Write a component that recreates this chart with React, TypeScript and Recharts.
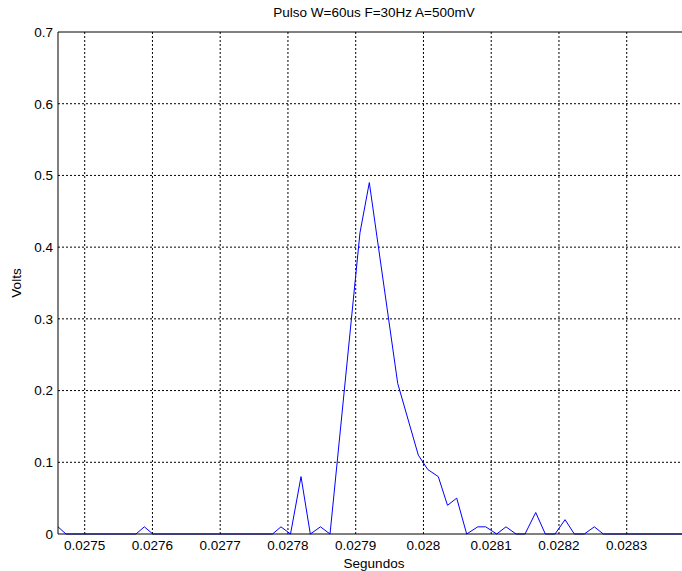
import { Label, Line, LineChart, ReferenceLine, XAxis, YAxis } from "recharts";

const times = [
  0.0274606, 0.0274724, 0.0275757, 0.027588, 0.0276005, 0.0277772, 0.0277897,
  0.0278038, 0.0278193, 0.027833, 0.027848, 0.0278621, 0.0279063, 0.0279201,
  0.027962, 0.0279924, 0.0280063, 0.0280219, 0.0280355, 0.0280491, 0.0280638,
  0.0280801, 0.0280919, 0.0281081, 0.0281218, 0.0281366, 0.0281499, 0.0281657,
  0.0281799, 0.0281942, 0.028209, 0.0282227, 0.0282374, 0.0282522, 0.0282655,
  0.0283816,
];
const volts = [
  0.01, 0, 0, 0.01, 0, 0, 0.01,
  0, 0.08, 0, 0.01, 0, 0.42, 0.49,
  0.21, 0.11, 0.09, 0.08, 0.04, 0.05, 0,
  0.01, 0.01, 0, 0.01, 0, 0, 0.03,
  0, 0, 0.02, 0, 0, 0.01, 0,
  0,
];

const xTicks = [0.0275, 0.0276, 0.0277, 0.0278, 0.0279, 0.028, 0.0281, 0.0282, 0.0283];
const yTicks = [0, 0.1, 0.2, 0.3, 0.4, 0.5, 0.6, 0.7];
// the axes box runs a little past the right edge of the picture
const xDomain = [0.0274606, 0.0283816];

const data = times.map((t, i) => ({ t, v: volts[i] }));

const font = "'Liberation Sans', Arial, Helvetica, sans-serif";
const tickStyle = { fill: "#000", fontSize: 13.5, fontFamily: font };

function VoltsLabel(props: any) {
  const vb = props.viewBox || { x: 0, y: 0, height: 0 };
  const x = vb.x + 21;
  const y = vb.y + vb.height / 2;
  return (
    <text
      x={x}
      y={y}
      transform={`rotate(-90 ${x} ${y})`}
      textAnchor="middle"
      fontSize={13.5}
      fontFamily={font}
      fill="#000"
    >
      Volts
    </text>
  );
}

function SegundosLabel(props: any) {
  const vb = props.viewBox || { x: 0, y: 0, width: 0, height: 0 };
  // centred on the full axes box, which is 8px wider than the picture
  const x = vb.x + (vb.width + 8) / 2;
  const y = vb.y + vb.height + 14;
  return (
    <text x={x} y={y} textAnchor="middle" fontSize={13.5} fontFamily={font} fill="#000">
      Segundos
    </text>
  );
}

export default function App() {
  return (
    <div
      style={{
        position: "absolute",
        left: 0,
        top: 0,
        width: 682,
        height: 571,
        overflow: "hidden",
        background: "#fff",
      }}
    >
      <div
        style={{
          position: "absolute",
          left: 0,
          top: 4,
          width: 748,
          textAlign: "center",
          fontFamily: font,
          fontSize: 13.5,
          lineHeight: "18px",
          color: "#000",
        }}
      >
        Pulso W=60us F=30Hz A=500mV
      </div>
      <LineChart
        width={682}
        height={571}
        data={data}
        margin={{ top: 32, right: 0, left: 0, bottom: 17 }}
      >
        {/* dotted grid at the labelled ticks */}
        {yTicks.slice(1, -1).map((v) => (
          <ReferenceLine key={"h" + v} y={v} stroke="#000" strokeDasharray="2 2" />
        ))}
        {xTicks.map((t) => (
          <ReferenceLine key={"v" + t} x={t} stroke="#000" strokeDasharray="2 2" />
        ))}
        <XAxis
          type="number"
          dataKey="t"
          domain={xDomain}
          allowDataOverflow
          ticks={xTicks}
          tickFormatter={(v) => String(Number(v.toFixed(4)))}
          tick={tickStyle}
          tickLine={false}
          tickSize={0}
          tickMargin={6}
          axisLine={{ stroke: "#000" }}
          height={20}
        >
          <Label content={SegundosLabel} />
        </XAxis>
        <YAxis
          type="number"
          domain={[0, 0.7]}
          ticks={yTicks}
          tickFormatter={(v) => String(Number(v.toFixed(1)))}
          tick={tickStyle}
          tickLine={false}
          tickSize={0}
          tickMargin={5}
          axisLine={{ stroke: "#000" }}
          width={58}
        >
          <Label content={VoltsLabel} />
        </YAxis>
        <ReferenceLine y={0.7} stroke="#000" />
        <Line
          type="linear"
          dataKey="v"
          stroke="#0000ff"
          strokeWidth={1}
          dot={false}
          isAnimationActive={false}
        />
      </LineChart>
    </div>
  );
}
